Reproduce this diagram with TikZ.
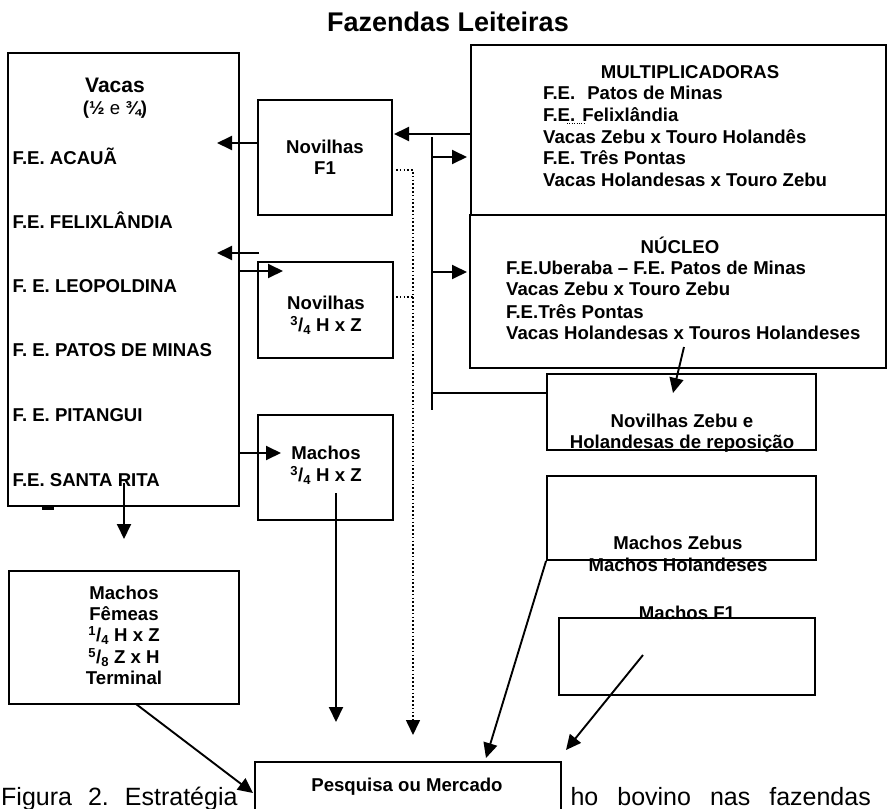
\documentclass[tikz,border=0pt]{standalone}
\usepackage{fontspec}
\setmainfont{Liberation Sans}
\usetikzlibrary{arrows.meta,fit}
\begin{document}
\begin{tikzpicture}[x=1pt,y=-1pt,
  box/.style={draw, line width=1.9pt, inner sep=0pt, fill=white},
  t/.style={font=\bfseries\fontsize{18.6}{22}\selectfont, inner sep=0pt, anchor=base},
  tl/.style={t, anchor=base west},
  arr/.style={line width=1.9pt, -{Triangle[length=15pt,width=14pt]}},
  ln/.style={line width=1.9pt},
  dotln/.style={line width=1.6pt, dash pattern=on 1.6pt off 2.2pt}]
\useasboundingbox[fill=white] (0,0) rectangle (888,808);

% caption (partly hidden by the Pesquisa box)
\node[font=\fontsize{25}{30}\selectfont, inner sep=0pt, anchor=base west] (capl) at (1,805)
  {Figura\hspace{16pt}2.\hspace{16pt}Estratégia\hspace{16pt}d};
\node[font=\fontsize{25}{30}\selectfont, inner sep=0pt, anchor=base east] (capr) at (871,805)
  {ho\hspace{19pt}bovino\hspace{19pt}nas\hspace{19pt}fazendas};

% title
\node[font=\bfseries\fontsize{27}{32}\selectfont, inner sep=0pt, anchor=base] (title) at (448,32) {Fazendas Leiteiras};

% boxes
\node[box, fit={(8,53) (239,506)}] (vacas) {};
\node[box, fit={(258,100) (392,215)}] (nf1) {};
\node[box, fit={(258,262) (393,358)}] (n34) {};
\node[box, fit={(258,415) (393,520)}] (m34) {};
\node[box, fit={(9,571) (239,704)}] (mf) {};
\node[box, fit={(471,45) (886,215)}] (mult) {};
\node[box, fit={(470,215) (886,368)}] (nuc) {};
\node[box, fit={(547,374) (816,450)}] (nzeb) {};
\node[box, fit={(547,476) (816,560)}] (mzeb) {};
\node[box, fit={(559,618) (815,695)}] (mf1) {};
\node[box, fit={(255,762) (561,830)}] (pesq) {};

% Vacas texts
\node[t, font=\bfseries\fontsize{21}{25}\selectfont] (tvacas) at (115,92.5) {Vacas};
\node[t] (tfrac) at (115,114) {(½\mdseries{} e \bfseries¾)};
\node[tl] (f1) at (12.5,164.5) {F.E. ACAUÃ};
\node[tl] (f2) at (12.5,228.5) {F.E. FELIXLÂNDIA};
\node[tl] (f3) at (12.5,292.5) {F. E. LEOPOLDINA};
\node[tl] (f4) at (12.5,356.5) {F. E. PATOS DE MINAS};
\node[tl] (f5) at (12.5,421.5) {F. E. PITANGUI};
\node[tl] (f6) at (12.5,486.5) {F.E. SANTA RITA};

% small boxes
\node[t] (tnf1a) at (325,153.5) {Novilhas};
\node[t] (tnf1b) at (325,174.5) {F1};
\node[t] (tn34a) at (326,309.5) {Novilhas};
\node[t] (tn34b) at (326,331.5) {\textsuperscript{3}/\textsubscript{4} H x Z};
\node[t] (tm34a) at (326,459.5) {Machos};
\node[t] (tm34b) at (326,481.5) {\textsuperscript{3}/\textsubscript{4} H x Z};
\node[t] (tmfa) at (124,599.5) {Machos};
\node[t] (tmfb) at (124,620.5) {Fêmeas};
\node[t] (tmfc) at (124,641.5) {\textsuperscript{1}/\textsubscript{4} H x Z};
\node[t] (tmfd) at (124,663.5) {\textsuperscript{5}/\textsubscript{8} Z x H};
\node[t] (tmfe) at (124,684.5) {Terminal};

% Multiplicadoras
\node[t] (tmult) at (690,78.5) {MULTIPLICADORAS};
\node[tl] (tm1) at (543,99.5) {F.E.\hspace{12pt}Patos de Minas};
\node[tl] (tm2) at (543,121.5) {F.E.\hspace{7pt}Felixlândia};
\node[tl] (tm3) at (543,143.5) {Vacas Zebu x Touro Holandês};
\node[tl] (tm4) at (543,164.5) {F.E. Três Pontas};
\node[tl] (tm5) at (543,186.5) {Vacas Holandesas x Touro Zebu};
\draw[line width=0.8pt, dash pattern=on 0.8pt off 1.6pt] (tm2.base west) ++(24,2) -- ++(17,0);

% Nucleo
\node[t] (tnuc) at (680,253.5) {NÚCLEO};
\node[tl] (tn1) at (506,274.5) {F.E.Uberaba – F.E. Patos de Minas};
\node[tl] (tn2) at (506,295.5) {Vacas Zebu x Touro Zebu};
\node[tl] (tn3) at (506,318.5) {F.E.Três Pontas};
\node[tl] (tn4) at (506,339.5) {Vacas Holandesas x Touros Holandeses};

% right lower boxes
\node[t] (tnza) at (682,427.5) {Novilhas Zebu e};
\node[t] (tnzb) at (682,448.5) {Holandesas de reposição};
\node[t] (tmza) at (678,549.5) {Machos Zebus};
\node[t] (tmzb) at (678,571.5) {Machos Holandeses};
\node[t] (tmf1) at (687,619.5) {Machos F1};
\node[t] (tpesq) at (407,791.5) {Pesquisa ou Mercado};

% small bar under Vacas box
\fill (42,506) rectangle (54,510);

% connectors
\coordinate (a1) at (217,143);
\draw[arr] (nf1.west |- a1) -- (a1);
\coordinate (a2s) at (259,253);
\coordinate (a2e) at (217,253);
\draw[arr] (a2s) -- (a2e);
\coordinate (a3) at (283,271);
\draw[arr] (vacas.east |- a3) -- (a3);
\coordinate (a4) at (281,453);
\draw[arr] (vacas.east |- a4) -- (a4);
\coordinate (a5s) at (124,483);
\coordinate (a5e) at (124,539);
\draw[arr] (a5s) -- (a5e);
\coordinate (a6s) at (136,704);
\coordinate (a6e) at (253,793);
\draw[arr] (a6s) -- (a6e);
\coordinate (a7s) at (336,493);
\coordinate (a7e) at (336,722);
\draw[arr] (a7s) -- (a7e);

% dotted connectors
\coordinate (d1) at (396,170);
\coordinate (d2) at (413,170);
\coordinate (d3) at (413,735);
\coordinate (d4) at (396,297);
\draw[dotln, -{Triangle[length=15pt,width=14pt]}] (d1) -- (d2) -- (d3);
\draw[dotln] (d4) -- (d4 -| d2);

% right side connectors
\coordinate (a9) at (394,134);
\draw[arr] (mult.west |- a9) -- (a9);
\coordinate (v1) at (432,137);
\coordinate (v2) at (432,410);
\draw[ln] (v1) -- (v2);
\coordinate (a10) at (467,157);
\draw[arr] (v1 |- a10) -- (a10);
\coordinate (a11) at (467,272);
\draw[arr] (v1 |- a11) -- (a11);
\coordinate (h1) at (432,393);
\draw[ln] (h1) -- (nzeb.west |- h1);
\coordinate (a12s) at (684,347);
\coordinate (a12e) at (673,393);
\draw[arr] (a12s) -- (a12e);
\coordinate (a13e) at (486,758);
\draw[arr] (mzeb.south west) -- (a13e);
\coordinate (a14s) at (643,655);
\coordinate (a14e) at (566,750);
\draw[arr] (a14s) -- (a14e);
\end{tikzpicture}
\end{document}
